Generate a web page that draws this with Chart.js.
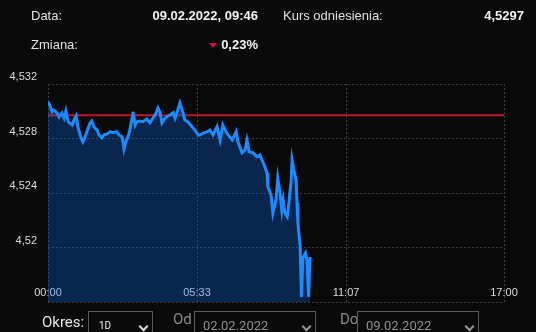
<!DOCTYPE html>
<html>
<head>
<meta charset="utf-8">
<script src="https://cdn.jsdelivr.net/npm/chart.js@4"></script>
<style>
  html, body { margin: 0; padding: 0; width: 536px; height: 332px; overflow: hidden; background: #0a0a0a; }
  body { position: relative; font-family: "Liberation Sans", Arial, sans-serif; color: #e2e2e2; }
  #chart { position: absolute; left: 0; top: 0; }
  .t { position: absolute; font-size: 13px; line-height: 16px; white-space: nowrap; z-index: 2; }
  .b { font-weight: bold; color: #f2f2f2; }
  .tri { position: absolute; left: 209px; top: 43px; width: 0; height: 0; border-left: 4px solid transparent; border-right: 4px solid transparent; border-top: 5px solid #d0102e; z-index: 2; }
  .f { position: absolute; top: 313px; font-family: Roboto, sans-serif; white-space: nowrap; z-index: 2; }
  .lbl { font-size: 15px; line-height: 18px; }
  .box { position: absolute; top: 311px; height: 30px; border: 1px solid #5a5a5a; box-sizing: border-box; z-index: 2; font-family: Roboto, sans-serif; }
  .box span { position: absolute; top: 6px; font-size: 13px; }
  .chev { position: absolute; top: 11px; width: 5px; height: 5px; border-right: 2px solid #ddd; border-bottom: 2px solid #ddd; transform: rotate(45deg); }
</style>
</head>
<body>
<canvas id="chart" width="536" height="332"></canvas>

<div class="t" style="left:31px; top:8px;">Data:</div>
<div class="t b" style="right:278px; top:8px;">09.02.2022, 09:46</div>
<div class="t" style="left:283px; top:8px;">Kurs odniesienia:</div>
<div class="t b" style="right:12px; top:8px;">4,5297</div>
<div class="t" style="left:31px; top:37px;">Zmiana:</div>
<div class="tri"></div>
<div class="t b" style="right:278px; top:37px;">0,23%</div>

<div class="f lbl" style="left:42px; color:#e6e6e6;">Okres:</div>
<div class="box" style="left:88px; width:65px;"><span style="left:10px; font-size:10px; top:8px; color:#eee;">1D</span><i class="chev" style="left:51px;"></i></div>
<div class="f lbl" style="left:173px; top:310px; color:#8a8a8a;">Od</div>
<div class="box" style="left:194px; width:122px;"><span style="left:8px; color:#8f8f8f;">02.02.2022</span><i class="chev" style="left:108px; border-color:#999;"></i></div>
<div class="f lbl" style="left:340px; top:310px; color:#8a8a8a;">Do</div>
<div class="box" style="left:357px; width:122px;"><span style="left:8px; color:#8f8f8f;">09.02.2022</span><i class="chev" style="left:108px; border-color:#999;"></i></div>

<script>
// minuty od 00:00 i kurs
const minutes = [0, 4, 9, 13, 20, 25, 31, 36, 40, 45, 54, 58, 63, 67, 74, 78, 83, 87, 94, 98,
  103, 110, 114, 121, 125, 132, 139, 145, 154, 159, 166, 170, 174, 179, 183, 188, 190, 195, 199, 206,
  212, 221, 228, 235, 242, 246, 251, 255, 262, 266, 273, 280, 284, 289, 295, 302, 306, 313, 322, 329,
  336, 340, 347, 356, 362, 369, 378, 385, 391, 400, 412, 421, 425, 434, 441, 445, 450, 459, 467, 474,
  479, 485, 490, 492, 499, 503, 510, 514, 519, 523, 526, 530, 535, 537, 544, 546, 550, 555, 557, 559,
  564, 567, 570, 576, 579, 583, 586];
const rates = [4.5307, 4.53046, 4.52997, 4.53009, 4.52987, 4.52958, 4.52987, 4.5295, 4.53002, 4.52923,
  4.52899, 4.52936, 4.52965, 4.52884, 4.52804, 4.52776, 4.52813, 4.5285, 4.52914, 4.52928,
  4.52884, 4.52862, 4.52826, 4.52804, 4.52826, 4.52833, 4.5285, 4.52843, 4.5285, 4.52826,
  4.52813, 4.52723, 4.52776, 4.52813, 4.52862, 4.5295, 4.52997, 4.52899, 4.52923, 4.52928,
  4.52923, 4.52943, 4.52916, 4.5295, 4.52989, 4.53024, 4.52987, 4.52914, 4.5295, 4.5296,
  4.52972, 4.52989, 4.5295, 4.52997, 4.53061, 4.52987, 4.52936, 4.52923, 4.52887, 4.52862,
  4.52826, 4.52826, 4.5284, 4.5285, 4.52862, 4.52826, 4.52887, 4.52789, 4.52899, 4.5284,
  4.52789, 4.5285, 4.52776, 4.52694, 4.52716, 4.52789, 4.52703, 4.52694, 4.52666, 4.52679,
  4.52642, 4.52593, 4.52547, 4.52446, 4.52385, 4.52253, 4.52349, 4.5251, 4.524, 4.52275,
  4.52349, 4.52253, 4.52226, 4.52275, 4.52495, 4.52642, 4.52569, 4.52495, 4.52327, 4.5218,
  4.52006, 4.51637, 4.51923, 4.5196, 4.51908, 4.51637, 4.5193];
const refRate = 4.5297;
const sessionEnd = 1020;

const xTickValues = [0, 333.33, 666.67, 1020];
const xTickLabels = ['00:00', '05:33', '11:07', '17:00'];
const yTickValues = [4.516, 4.52, 4.524, 4.528, 4.532];
const yTickLabels = ['', '4,52', '4,524', '4,528', '4,532'];

const gridColor = '#3d3d3d';
const tickFont = { size: 11, family: '"Liberation Sans", Arial, sans-serif' };

new Chart(document.getElementById('chart'), {
  type: 'line',
  data: {
    datasets: [
      {
        data: minutes.map((m, i) => ({ x: m, y: rates[i] })),
        borderColor: '#1a8cff',
        backgroundColor: 'rgba(10, 110, 240, 0.3)',
        borderWidth: 3,
        pointRadius: 0,
        tension: 0,
        fill: 'start'
      },
      {
        data: [{ x: 0, y: refRate }, { x: sessionEnd, y: refRate }],
        borderColor: '#c0142c',
        borderWidth: 2,
        pointRadius: 0,
        fill: false
      }
    ]
  },
  options: {
    responsive: false,
    animation: false,
    layout: { padding: { top: 84, right: 32, left: 0, bottom: 0 } },
    plugins: { legend: { display: false }, tooltip: { enabled: false } },
    scales: {
      x: {
        type: 'linear',
        min: 0,
        max: sessionEnd,
        afterBuildTicks: s => { s.ticks = xTickValues.map(v => ({ value: v })); },
        afterFit: s => { s.height = 30; },
        ticks: {
          callback: (v, i) => xTickLabels[i],
          autoSkip: false,
          maxRotation: 0,
          mirror: true, // etykiety wewnątrz wykresu, bez przycinania
          padding: 2,
          color: '#dddddd',
          font: tickFont
        },
        grid: { color: gridColor, drawTicks: false },
        border: { display: false, dash: [2, 2] }
      },
      y: {
        min: 4.516,
        max: 4.532,
        afterBuildTicks: s => { s.ticks = yTickValues.map(v => ({ value: v })); },
        afterFit: s => { s.width = 48; },
        ticks: {
          callback: (v, i) => yTickLabels[i],
          padding: 11,
          labelOffset: -7,
          color: '#dddddd',
          font: tickFont
        },
        grid: { color: gridColor, drawTicks: false },
        border: { display: false, dash: [2, 2] }
      }
    }
  }
});
</script>
</body>
</html>
